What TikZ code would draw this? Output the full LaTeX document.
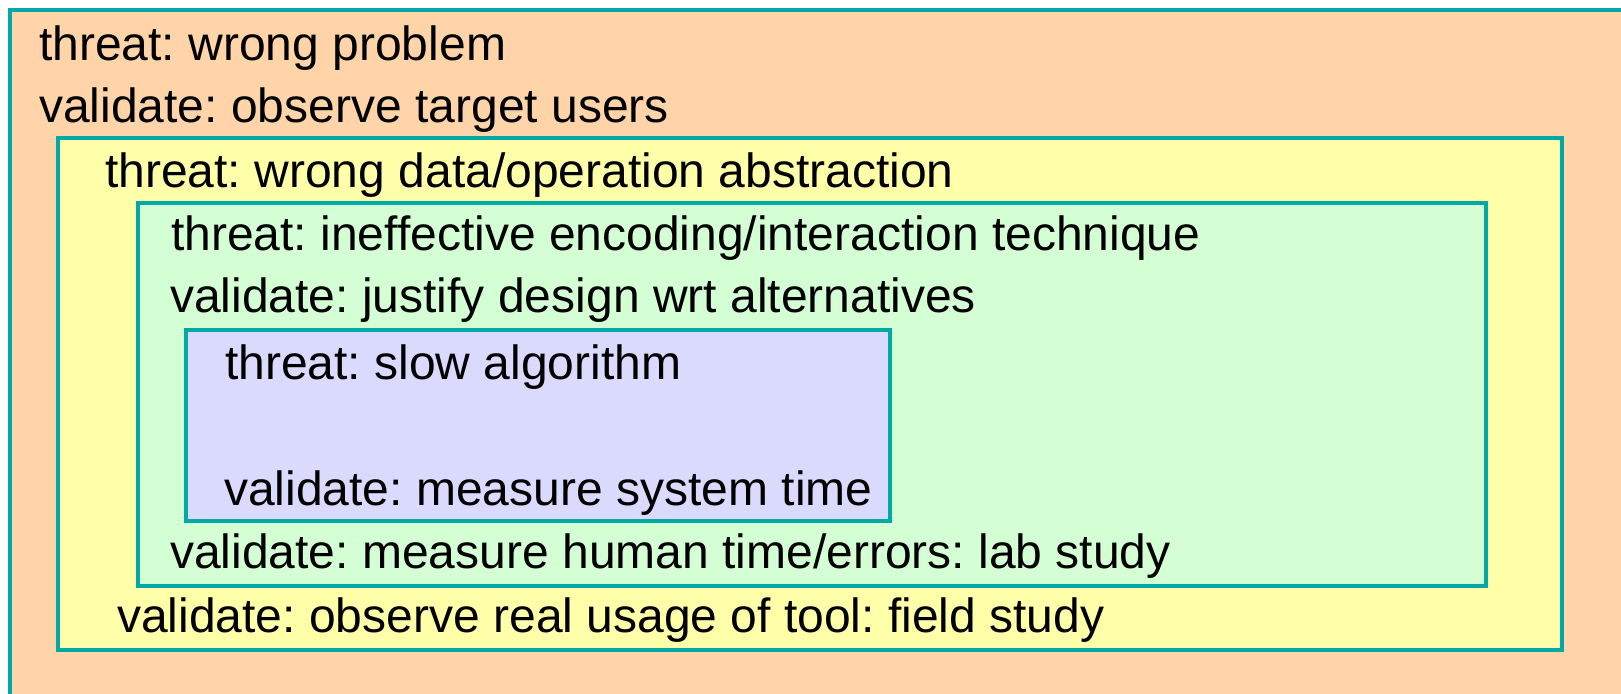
\documentclass[tikz,border=0pt]{standalone}
\usepackage{fontspec}
\setmainfont{Liberation Sans}
\frenchspacing
\definecolor{peach}{RGB}{255,212,168}
\definecolor{lyellow}{RGB}{255,255,170}
\definecolor{lgreen}{RGB}{212,255,212}
\definecolor{lpurple}{RGB}{218,218,255}
\definecolor{teal}{RGB}{0,168,168}
\tikzset{
  box/.style={draw=teal, line width=4pt},
  txt/.style={anchor=base west, inner sep=0pt, font=\fontsize{48}{56}\selectfont\frenchspacing, text=black}
}
\begin{document}
\begin{tikzpicture}[x=1pt,y=-1pt]
\useasboundingbox (0,0) rectangle (1621,693);
\clip (0,0) rectangle (1621,693);
\fill[white] (0,0) rectangle (1621,693);
\path[box, fill=peach] (10,10) rectangle (1660,740);
\path[box, fill=lyellow] (58,138) rectangle (1562,650);
\path[box, fill=lgreen] (138,202.5) rectangle (1486,586);
\path[box, fill=lpurple] (186,330) rectangle (890,521);
\node[txt] (t1) at (39,60) {threat: wrong problem};
\node[txt] (v1) at (39,122) {validate: observe target users};
\node[txt] (t2) at (105,187) {threat: wrong data/operation abstraction};
\node[txt] (t3) at (171,250) {threat: ineffective encoding/interaction technique};
\node[txt] (v3a) at (170,312) {validate: justify design wrt alternatives};
\node[txt] (t4) at (225,379) {threat: slow algorithm};
\node[txt] (v4) at (224,505) {validate: measure system time};
\node[txt] (v3b) at (170,568) {validate: measure human time/errors: lab study};
\node[txt] (v2) at (117,632) {validate: observe real usage of tool: field study};
\end{tikzpicture}
\end{document}
